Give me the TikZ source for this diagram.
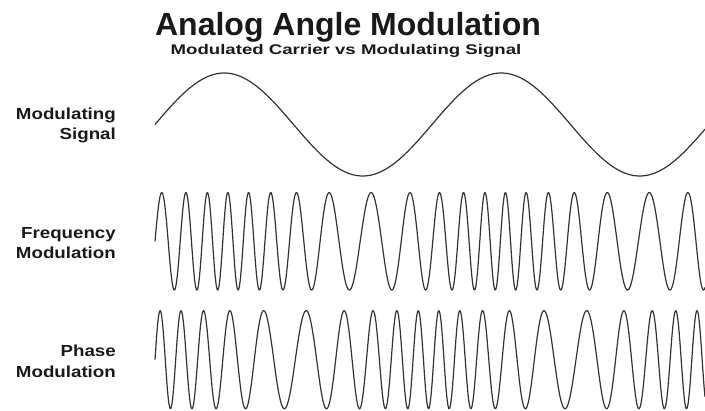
\documentclass[tikz,border=0pt]{standalone}
\usepackage{fontspec}
\setmainfont{Liberation Sans}
\newfontfamily\ttlfont{Liberation Sans}
\newfontfamily\subfont{Liberation Sans}[FakeStretch=1.33]
\newfontfamily\lblfont{Liberation Sans}[FakeStretch=1.17]
\usepackage{tikz}

\begin{document}
\begin{tikzpicture}[
  x=1pt, y=-1pt,
  every node/.style={inner sep=0pt, text=black!90},
  ttl/.style ={font=\ttlfont\bfseries\fontsize{32}{38}\selectfont, anchor=base},
  sttl/.style={font=\subfont\bfseries\fontsize{14}{17}\selectfont, anchor=base},
  lbl/.style ={font=\lblfont\bfseries\fontsize{16}{20.5}\selectfont,
               align=right, anchor=base east},
  wave/.style={black!80, line width=1.2pt, line join=round}
]
\useasboundingbox (0,0) rectangle (705,411);

%% ---- Heading ---------------------------------------------------------
\node[ttl]  (title) at (348,36) {Analog Angle Modulation};
\node[sttl] (subtitle) at (346,55) {Modulated Carrier vs Modulating Signal};

%% ---- Row labels (anchored on the last line) --------------------------
\node[lbl] (msglbl) at (116,140)   {Modulating\\Signal};
\node[lbl] (fmlbl)  at (116,259)   {Frequency\\Modulation};
\node[lbl] (pmlbl)  at (116,377.5) {Phase\\Modulation};

%% ---- Waveforms (period of message = 277) -----------------------------
% message
\draw[wave] plot[domain=155:705, samples=300, variable=\x]
  (\x, {124.5 - 51.5*sin(1.2996*(\x-155))});

% frequency modulated carrier
\draw[wave] plot[domain=155:705, samples=1400, variable=\x]
  (\x, {241.3 - 48.7*sin(12.96*(\x-155) + 208.5*(1-cos(1.2996*(\x-155))))});

% phase modulated carrier
\draw[wave] plot[domain=155:705, samples=1400, variable=\x]
  (\x, {359.7 - 49*sin(12.888*(\x-155) + 206.3*sin(1.2996*(\x-155)))});

\end{tikzpicture}
\end{document}
